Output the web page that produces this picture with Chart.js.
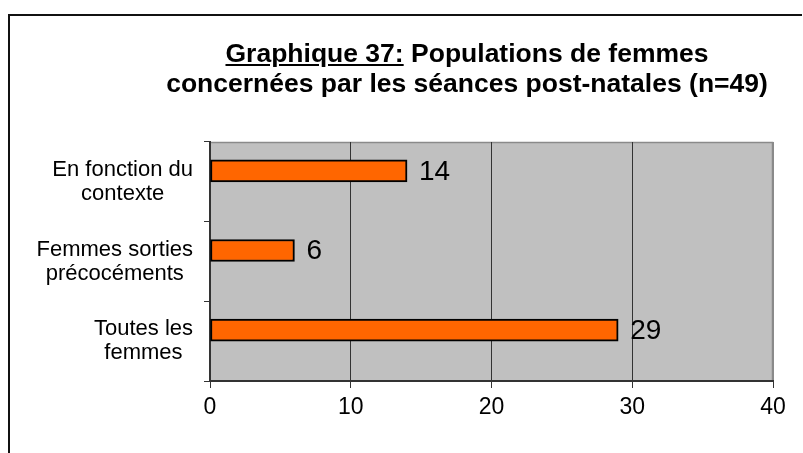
<!DOCTYPE html>
<html>
<head>
<meta charset="utf-8">
<script src="https://cdn.jsdelivr.net/npm/chart.js@4.4.0/dist/chart.umd.min.js"></script>
<style>
  html, body { margin: 0; padding: 0; background: #fff; }
  #wrap { position: relative; width: 803px; height: 453px; overflow: hidden; }
  #frame { position: absolute; left: 8px; top: 14px; width: 794px; height: 460px;
           border-left: 2px solid #111; border-top: 2px solid #111; box-sizing: border-box; }
  #title { position: absolute; left: 67px; width: 800px; top: 38px; text-align: center;
           font: bold 26.5px "Liberation Sans", Arial, sans-serif; line-height: 30px;
           white-space: nowrap; color: #000; z-index: 2; }
  canvas { position: absolute; left: 0; top: 0; }
</style>
</head>
<body>
<div id="wrap">
  <div id="frame"></div>
  <div id="title"><u>Graphique 37:</u> Populations de femmes<br>concernées par les séances post-natales (n=49)</div>
  <canvas id="chartPop" width="803" height="453"></canvas>
</div>
<script>
const categories = [
  ["En fonction du", "contexte"],
  ["Femmes sorties", "précocéments"],
  ["Toutes les", "femmes"]
];
const counts = [14, 6, 29];
// empty second series, as in the original sheet: it pushes the bars above centre
const spacer = [null, null, null];
const xTicks = [0, 10, 20, 30, 40];

const FONT = '"Liberation Sans", Arial, sans-serif';
Chart.defaults.font.family = FONT;
Chart.defaults.color = "#000";

const plotBackground = {
  id: "plotBackground",
  beforeDraw(chart) {
    const { ctx, chartArea: a } = chart;
    ctx.save();
    ctx.fillStyle = "#c0c0c0";
    ctx.fillRect(a.left, a.top, a.right - a.left, a.bottom - a.top);
    ctx.strokeStyle = "#8a8a8a";
    ctx.lineWidth = 1.5;
    ctx.beginPath();
    ctx.moveTo(a.left, a.top + 0.5);
    ctx.lineTo(a.right - 0.5, a.top + 0.5);
    ctx.lineTo(a.right - 0.5, a.bottom);
    ctx.stroke();
    ctx.restore();
  }
};

// category labels: block right-aligned to the axis, lines centred inside the block
const categoryLabels = {
  id: "categoryLabels",
  afterDraw(chart) {
    const ctx = chart.ctx;
    const yScale = chart.scales.y;
    const right = yScale.right - 6 - 11;
    const lineH = 24;
    ctx.save();
    ctx.font = "22px " + FONT;
    ctx.fillStyle = "#000";
    ctx.textAlign = "center";
    ctx.textBaseline = "middle";
    categories.forEach((lines, i) => {
      const y = yScale.getPixelForValue(i);
      const w = Math.max(...lines.map((l) => ctx.measureText(l).width));
      const cx = right - w / 2;
      const y0 = y - ((lines.length - 1) * lineH) / 2;
      lines.forEach((l, j) => ctx.fillText(l, cx, y0 + j * lineH));
    });
    ctx.restore();
  }
};

const valueLabels = {
  id: "valueLabels",
  afterDatasetsDraw(chart) {
    const ctx = chart.ctx;
    const meta = chart.getDatasetMeta(0);
    ctx.save();
    ctx.font = "28px " + FONT;
    ctx.fillStyle = "#000";
    ctx.textAlign = "left";
    ctx.textBaseline = "middle";
    meta.data.forEach((bar, i) => {
      ctx.fillText(String(counts[i]), bar.x + 12, bar.y + 1);
    });
    ctx.restore();
  }
};

new Chart(document.getElementById("chartPop"), {
  type: "bar",
  data: {
    labels: categories,
    datasets: [
      {
        label: "Effectif",
        data: counts,
        backgroundColor: "#ff6600",
        borderColor: "#000",
        borderWidth: 2,
        borderSkipped: false,
        barThickness: 22,
      },
      {
        label: "",
        data: spacer,
        barThickness: 22,
      },
    ],
  },
  options: {
    indexAxis: "y",
    responsive: false,
    animation: false,
    layout: { padding: { top: 142, right: 30, bottom: 0, left: 0 } },
    plugins: {
      legend: { display: false },
      tooltip: { enabled: false },
    },
    scales: {
      x: {
        min: xTicks[0],
        max: xTicks[xTicks.length - 1],
        ticks: {
          stepSize: xTicks[1] - xTicks[0],
          font: { size: 23 },
          padding: 6,
          maxRotation: 0,
        },
        grid: {
          color: (c) => (c.tick && c.tick.value === xTicks[xTicks.length - 1] ? "#8a8a8a" : "#333"),
          tickColor: "#333",
          tickLength: 7,
          lineWidth: 1,
        },
        border: { color: "#333", width: 2 },
        afterFit: (s) => { s.height = 72; },
      },
      y: {
        ticks: { display: false },
        grid: {
          drawOnChartArea: false,
          tickLength: 6,
          tickColor: "#333",
        },
        border: { color: "#333", width: 2 },
        afterFit: (s) => { s.width = 210; },
      },
    },
  },
  plugins: [plotBackground, categoryLabels, valueLabels],
});
</script>
</body>
</html>
